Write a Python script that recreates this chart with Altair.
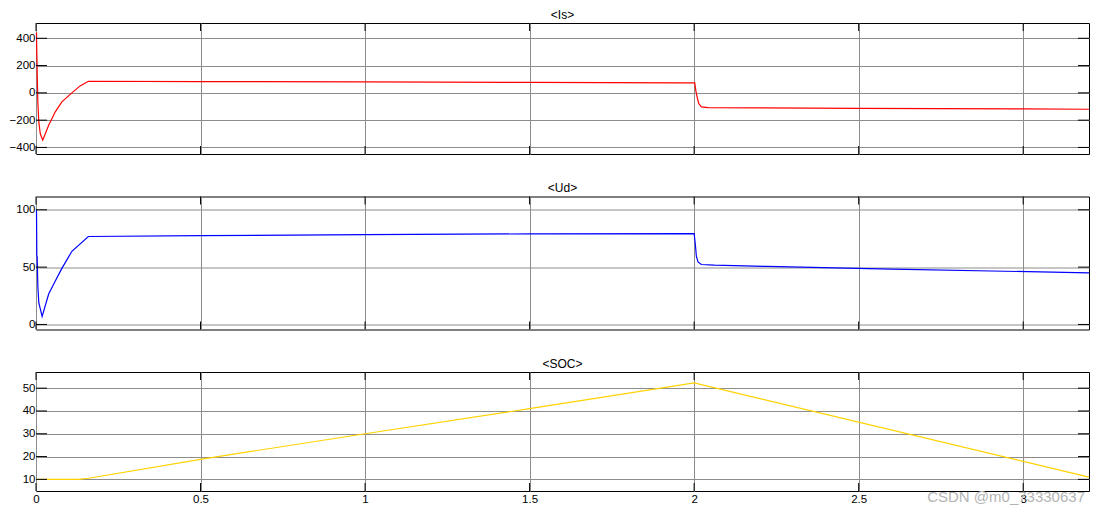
import altair as alt
import pandas as pd

# ---- data ----
x_ticks = [0, 0.5, 1, 1.5, 2, 2.5, 3]

t_is = [0, 0.0015, 0.0036, 0.0055, 0.0085, 0.013, 0.0205, 0.0385, 0.0586, 0.0786,
        0.109, 0.134, 0.159, 0.5, 1.0, 1.5, 1.96, 2.0018, 2.005, 2.009, 2.014,
        2.022, 2.042, 2.5, 3.0, 3.2]
is_vals = [430, 435, 150, -64, -211, -300, -347, -237, -139, -66,
           0, 51, 85, 83, 80, 77, 73, 73, 19, -29, -78,
           -103, -108, -113, -118, -120]
is_ticks = [-400, -200, 0, 200, 400]

t_ud = [0, 0.0015, 0.0025, 0.0036, 0.0055, 0.0085, 0.0186, 0.0385, 0.0586, 0.0786,
        0.109, 0.159, 0.5, 1.0, 1.5, 2.0, 2.0038, 2.0068, 2.0118, 2.0219, 2.0619,
        2.222, 2.6, 3.2]
ud_vals = [100, 100, 60, 59, 34, 19, 7, 26.5, 37.9, 48.9,
           63.8, 76.7, 77.5, 78.3, 79.0, 79.3, 69.5, 59.5, 54.6, 52.3, 51.7,
           50.6, 48.3, 45]
ud_ticks = [0, 50, 100]

t_soc = [0, 0.13, 0.16, 0.509, 1.0, 1.5, 2.0, 3.2]
soc_vals = [10, 10, 10.5, 19, 30, 41, 52.3, 11]
soc_ticks = [10, 20, 30, 40, 50]

titles = ["<Is>", "<Ud>", "<SOC>"]
colors = ["#ff0000", "#0000ff", "#ffd200"]
watermark = "CSDN @m0_73330637"

W = 1053
X_DOMAIN = [0, 3.2]
FONT = "Liberation Sans"


def panel(t, v, color, title, ticks, domain, height, show_x, extra=None):
    df = pd.DataFrame({"t": t, "v": v})
    xs = alt.X(
        "t:Q",
        scale=alt.Scale(domain=X_DOMAIN, nice=False, zero=False),
        axis=alt.Axis(values=x_ticks, format="~g", labels=show_x, labelPadding=2,
                      labelFlush=False, title=None, grid=True, ticks=False, domain=False),
    )
    ys = alt.Y(
        "v:Q",
        scale=alt.Scale(domain=domain, nice=False, zero=False),
        axis=alt.Axis(values=ticks, title=None, minExtent=24, maxExtent=24,
                      labelPadding=1, grid=True, ticks=False, domain=False),
    )
    line = alt.Chart(df).mark_line(color=color, strokeWidth=1.2).encode(x=xs, y=ys)
    ytdf = pd.DataFrame({"v": ticks})
    xtdf = pd.DataFrame({"t": x_ticks})
    left = alt.Chart(ytdf).mark_rule(color="black").encode(y=ys, x=alt.value(0), x2=alt.value(11))
    right = alt.Chart(ytdf).mark_rule(color="black").encode(y=ys, x=alt.value(W - 11), x2=alt.value(W))
    top = alt.Chart(xtdf).mark_rule(color="black").encode(x=xs, y=alt.value(0), y2=alt.value(8))
    bottom = alt.Chart(xtdf).mark_rule(color="black").encode(x=xs, y=alt.value(height - 8), y2=alt.value(height))
    layers = [line, left, right, top, bottom]
    if extra is not None:
        layers.append(extra)
    return alt.layer(*layers).properties(width=W, height=height, title=alt.Title(title))


wm = alt.Chart(pd.DataFrame({"s": [watermark]})).mark_text(
    align="right", baseline="middle", font=FONT, fontSize=15, color="#b4b4b4"
).encode(text="s:N", x=alt.value(1049), y=alt.value(125))

p1 = panel(t_is, is_vals, colors[0], titles[0], is_ticks, [-448, 512], 131, False)
p2 = panel(t_ud, ud_vals, colors[1], titles[1], ud_ticks, [-4.4, 111.6], 133, False)
p3 = panel(t_soc, soc_vals, colors[2], titles[2], soc_ticks, [4.9, 57.1], 119, True, extra=wm)

chart = (
    alt.vconcat(p1, p2, p3, spacing=26.5, background="white",
                padding={"left": 0, "top": 0, "right": 0, "bottom": 0})
    .configure_view(stroke="black", strokeWidth=1)
    .configure_axis(labelFont=FONT, labelFontSize=11.5, labelColor="black",
                    gridColor="#8c8c8c", gridWidth=1, gridOpacity=1)
    .configure_title(font=FONT, fontSize=12, fontWeight="normal", color="black",
                     anchor="middle", frame="group", offset=1)
)

chart.save("out.html", embed_options={"renderer": "svg", "actions": False})
